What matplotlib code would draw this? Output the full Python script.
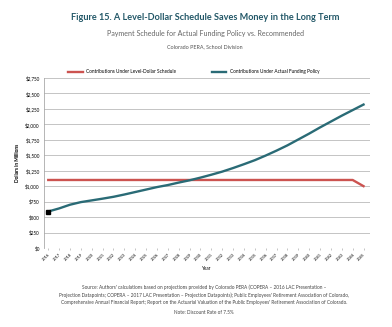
import numpy as np
import matplotlib.pyplot as plt

years = list(range(2016, 2046))
level_dollar = [1100] * 29 + [1000]
actual_policy = [590, 640, 700, 742, 770, 798, 828, 865, 905, 945,
                 985, 1018, 1058, 1095, 1138, 1185, 1235, 1293, 1355, 1420,
                 1495, 1575, 1660, 1755, 1850, 1950, 2045, 2140, 2230, 2320]
yticks = list(range(0, 2751, 250))

RED = '#cc5350'
TEAL = '#2a6b76'
GRID = '#c4c4c4'

plt.rcParams['font.family'] = ['Lato', 'DejaVu Sans']

fig = plt.figure(figsize=(3.92, 3.27), dpi=100)
ax = fig.add_axes([0.112, 0.2416, 0.832, 0.52])

ax.plot(years, level_dollar, color=RED, lw=1.7, label='Contributions Under Level-Dollar Schedule')
ax.plot(years, actual_policy, color=TEAL, lw=1.7, label='Contributions Under Actual Funding Policy')
ax.plot(years[0], actual_policy[0], 's', color='black', ms=3)

ax.set_xlim(2015.6, 2045.6)
ax.set_ylim(0, 2750)
ax.set_yticks(yticks)
ax.set_yticklabels(['$0' if v == 0 else f'${v:,}' for v in yticks], fontsize=3.3)
ax.set_xticks(years)
ax.set_xticklabels([str(y) for y in years], rotation=45, ha='right', rotation_mode='anchor', fontsize=2.8)
ax.tick_params(axis='y', length=0, pad=3)
ax.tick_params(axis='x', length=1.5, width=0.4, color='#999999', pad=1.5)
ax.grid(axis='y', color=GRID, lw=0.7)
ax.set_axisbelow(True)
for s in ['top', 'right', 'bottom']:
    ax.spines[s].set_visible(False)
ax.spines['left'].set_color('#aaaaaa')
ax.spines['left'].set_linewidth(0.6)

ax.set_ylabel('Dollars in Millions', fontsize=3.5, fontweight='bold', labelpad=4)
ax.set_xlabel('Year', fontsize=3.3, labelpad=3)

ax.legend(loc='lower center', bbox_to_anchor=(0.46, 1.0), ncol=2, frameon=False,
          fontsize=3.4, handlelength=3, columnspacing=7.5, borderaxespad=0.4)

fig.text(0.523, 0.948, 'Figure 15. A Level-Dollar Schedule Saves Money in the Long Term',
         ha='center', va='center', fontsize=6.6, fontweight='bold', color='#235868')
fig.text(0.523, 0.899, 'Payment Schedule for Actual Funding Policy vs. Recommended',
         ha='center', va='center', fontsize=5.1, color='#666666')
fig.text(0.523, 0.856, 'Colorado PERA, School Division',
         ha='center', va='center', fontsize=3.9, color='#555555')

source = ("Source: Authors' calculations based on projections provided by Colorado PERA (COPERA \u2013 2016 LAC Presentation \u2013\n"
          "Projection Datapoints; COPERA \u2013 2017 LAC Presentation \u2013 Projection Datapoints); Public Employees' Retirement Association of Colorado,\n"
          "Comprehensive Annual Financial Report; Report on the Actuarial Valuation of the Public Employees' Retirement Association of Colorado.")
fig.text(0.52, 0.098, source, ha='center', va='center', fontsize=3.45, color='#444444', linespacing=1.55)
fig.text(0.52, 0.043, 'Note: Discount Rate of 7.5%', ha='center', va='center', fontsize=3.4, color='#444444')

fig.savefig('out.png', dpi=100)
